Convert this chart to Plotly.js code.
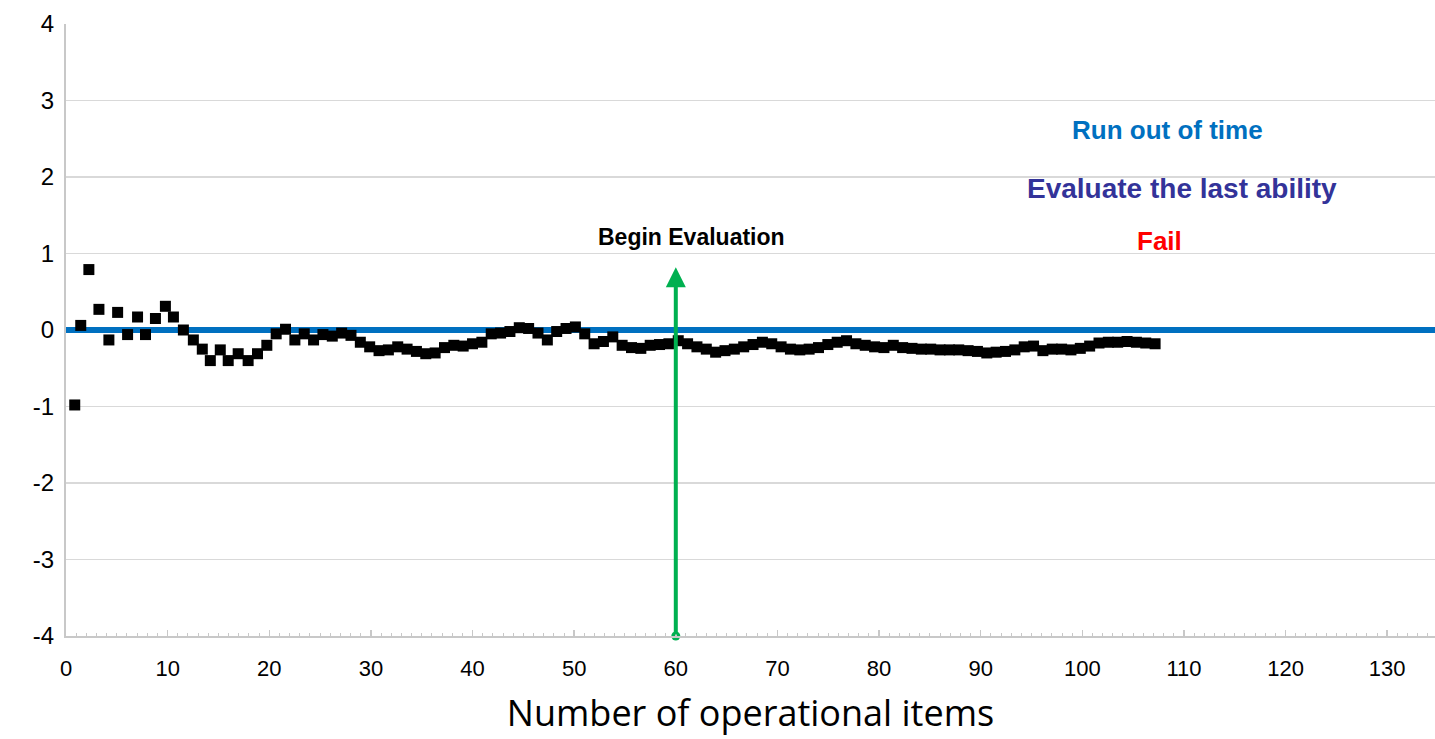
<!DOCTYPE html>
<html>
<head>
<meta charset="utf-8">
<script src="https://cdn.plot.ly/plotly-3.0.1.min.js"></script>
<style>html,body{margin:0;padding:0;background:#fff;}#chart{width:1435px;height:739px;}</style>
</head>
<body>
<div id="chart"></div>
<script>
// Ability estimate per operational item
const itemX = [0.86,1.45,2.25,3.24,4.22,5.08,6.06,7.04,7.82,8.80,9.78,10.57,11.55,12.53,13.41,14.20,15.18,15.96,16.94,17.92,
  18.84,19.76,20.68,21.60,22.52,23.44,24.36,25.28,26.20,27.12,
  28.04,28.96,29.88,30.80,31.72,32.64,33.56,34.48,35.40,36.32,
  37.24,38.16,39.08,40.00,40.92,41.84,42.76,43.68,44.60,45.52,
  46.44,47.36,48.28,49.20,50.12,51.04,51.96,52.88,53.80,54.72,
  55.64,56.56,57.48,58.40,59.32,60.24,61.16,62.08,63.00,63.92,
  64.84,65.76,66.68,67.60,68.52,69.44,70.36,71.28,72.20,73.12,
  74.04,74.96,75.88,76.80,77.72,78.64,79.56,80.48,81.40,82.32,
  83.24,84.16,85.08,86.00,86.92,87.84,88.76,89.68,90.60,91.52,
  92.44,93.36,94.28,95.20,96.12,97.04,97.96,98.88,99.80,100.72,
  101.64,102.56,103.48,104.40,105.32,106.24,107.16];
const ability = [-0.98,0.06,0.79,0.27,-0.13,0.23,-0.06,0.17,-0.06,0.15,0.31,0.17,0.00,-0.13,-0.25,-0.40,-0.26,-0.40,-0.31,-0.40,
  -0.31,-0.20,-0.05,0.01,-0.13,-0.05,-0.13,-0.06,-0.08,-0.04,
  -0.07,-0.16,-0.22,-0.27,-0.26,-0.22,-0.25,-0.28,-0.31,-0.30,
  -0.23,-0.20,-0.21,-0.18,-0.16,-0.05,-0.04,-0.02,0.03,0.02,
  -0.04,-0.13,-0.02,0.02,0.04,-0.05,-0.18,-0.15,-0.09,-0.20,
  -0.23,-0.24,-0.20,-0.19,-0.18,-0.14,-0.18,-0.22,-0.25,-0.29,
  -0.27,-0.25,-0.22,-0.19,-0.16,-0.18,-0.22,-0.25,-0.26,-0.25,
  -0.23,-0.19,-0.16,-0.14,-0.18,-0.20,-0.22,-0.23,-0.20,-0.23,
  -0.24,-0.25,-0.25,-0.26,-0.26,-0.26,-0.27,-0.28,-0.30,-0.29,
  -0.28,-0.26,-0.22,-0.21,-0.27,-0.25,-0.25,-0.26,-0.24,-0.21,
  -0.17,-0.16,-0.16,-0.15,-0.16,-0.17,-0.18];

const refLineX = [0, 135];
const refLineY = [0, 0];

const evalItem = 60;
const evalStart = -4;
const evalEnd = 0.82;

const xTickVals = [0,10,20,30,40,50,60,70,80,90,100,110,120,130];
const yTickVals = [-4,-3,-2,-1,0,1,2,3,4];

const labels = [
  {text: 'Begin Evaluation', x: 61.5, y: 1.22, color: '#000000', size: 23},
  {text: 'Run out of time', x: 108.4, y: 2.61, color: '#0070C0', size: 26},
  {text: 'Evaluate the last ability', x: 109.85, y: 1.85, color: '#333399', size: 28},
  {text: 'Fail', x: 107.6, y: 1.17, color: '#FF0000', size: 26}
];

const traces = [
  {x: refLineX, y: refLineY, mode: 'lines', line: {color: '#0070C0', width: 6}, hoverinfo: 'skip', showlegend: false},
  {x: [evalItem], y: [evalStart], mode: 'markers', marker: {color: '#00B050', size: 9, symbol: 'circle'}, showlegend: false, cliponaxis: false},
  {x: itemX, y: ability, mode: 'markers', marker: {color: '#000000', size: 11, symbol: 'square'}, showlegend: false}
];

const annotations = labels.map(l => ({
  text: '<b>' + l.text + '</b>', x: l.x, y: l.y, xref: 'x', yref: 'y', showarrow: false,
  font: {family: 'Liberation Sans, Arial, sans-serif', size: l.size, color: l.color},
  xanchor: 'center', yanchor: 'middle'
}));
annotations.push({
  x: evalItem, y: evalEnd, ax: evalItem, ay: evalStart, xref: 'x', yref: 'y', axref: 'x', ayref: 'y',
  showarrow: true, arrowhead: 2, arrowsize: 1, arrowwidth: 4, arrowcolor: '#00B050', text: '', standoff: 0, startstandoff: 0
});

const layout = {
  width: 1435, height: 739,
  margin: {l: 66, r: 0, t: 24, b: 103},
  paper_bgcolor: '#ffffff', plot_bgcolor: '#ffffff',
  font: {family: 'Liberation Sans, Arial, sans-serif', color: '#000000'},
  xaxis: {
    range: [0, 134.7], tickvals: xTickVals, ticktext: xTickVals.map(String),
    showgrid: false, zeroline: false, showline: true, linecolor: '#c8c8c8', linewidth: 2,
    ticks: 'inside', ticklen: 6, tickwidth: 1.5, tickcolor: '#c8c8c8',
    minor: {dtick: 1, ticks: 'inside', ticklen: 3, tickwidth: 1, tickcolor: '#c8c8c8', showgrid: false},
    tickfont: {size: 22, family: 'Liberation Sans, Arial, sans-serif'}, ticklabelstandoff: 12,
    title: {text: 'Number of operational items', font: {size: 36, family: 'Open Sans, sans-serif'}, standoff: 20}
  },
  yaxis: {
    range: [-4, 4], tickvals: yTickVals, ticktext: yTickVals.map(String),
    showgrid: true, gridcolor: '#d9d9d9', gridwidth: 1.5, zeroline: false,
    showline: true, linecolor: '#c8c8c8', linewidth: 2, ticks: '',
    tickfont: {size: 24, family: 'Liberation Sans, Arial, sans-serif'}, ticklabelstandoff: 5
  },
  annotations: annotations,
  showlegend: false
};

Plotly.newPlot('chart', traces, layout, {displayModeBar: false, staticPlot: true});
</script>
</body>
</html>
